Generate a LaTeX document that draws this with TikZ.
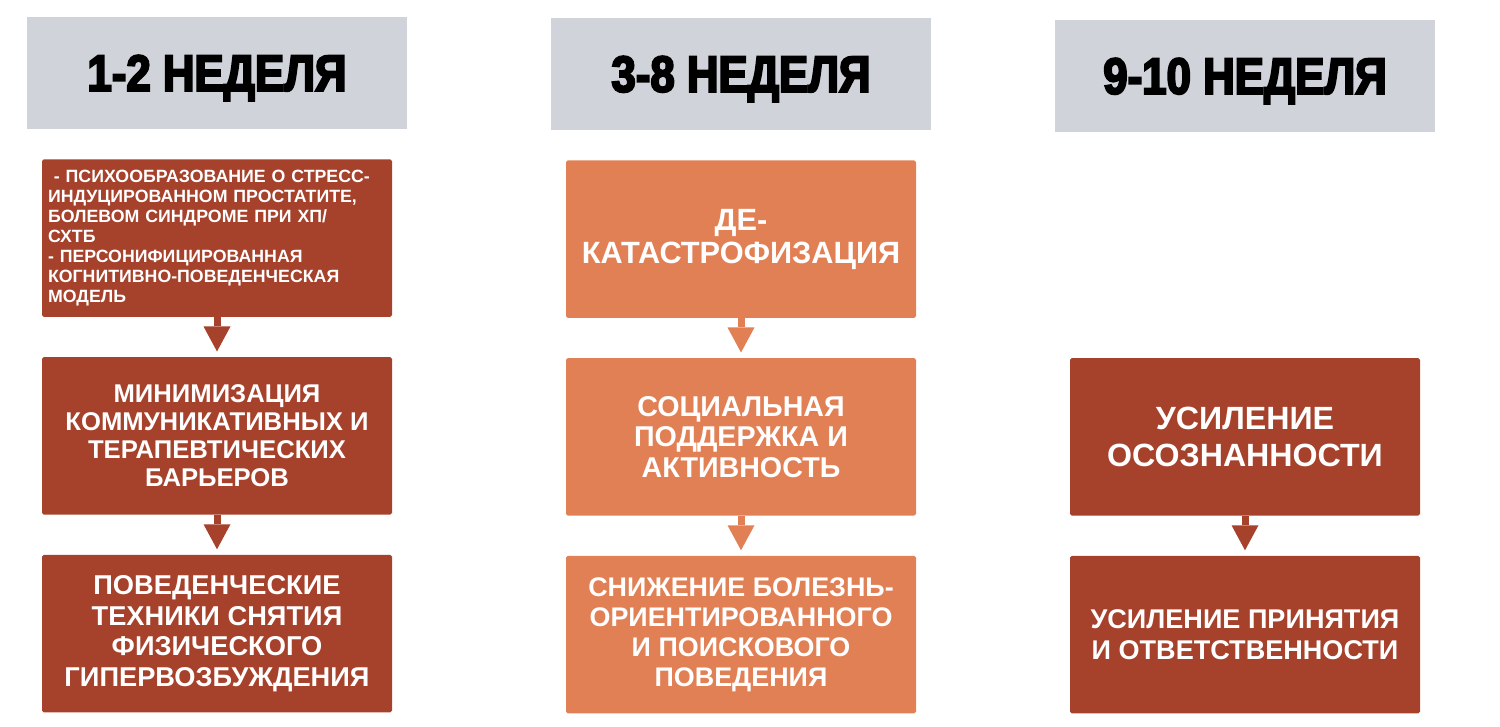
\documentclass[tikz,border=0pt]{standalone}
\usepackage{fontspec}
\setmainfont{Liberation Sans}
\newfontfamily\weekfont[FakeStretch=0.86,FakeBold=4]{Liberation Sans Bold}
\usetikzlibrary{positioning, arrows.meta}
\tikzset{every picture/.style={line width=0.75pt}}
\definecolor{brick}{RGB}{166,65,43}
\definecolor{peach}{RGB}{226,128,85}
\definecolor{steel}{RGB}{208,212,218}

\begin{document}
\begin{tikzpicture}[node distance=0.78cm,
        week/.style={rectangle, fill=steel, minimum width=7.6cm, minimum height=2.24cm, text depth=0pt, font=\weekfont\fontsize{29}{32}\selectfont},
        box/.style={rectangle, rounded corners=1pt, minimum width=7cm, minimum height=3.15cm, inner sep=0pt, text=white, align=center},
        txt/.style 2 args={font=\bfseries\fontsize{#1}{#2}\selectfont},
        dark/.style={box, fill=brick},
        light/.style={box, fill=peach},
        flow/.style={-{Triangle[width=0.54cm,length=0.5cm,line width=0pt]}, line width=0.14cm, shorten >=0.1cm}]
        \useasboundingbox (0,0) rectangle (30,14.52);

        \node[week] (w1) at (4.34,13.06) {1-2 НЕДЕЛЯ};
        \node[week] (w2) at (14.82,13.04) {3-8 НЕДЕЛЯ};
        \node[week] (w3) at (24.9,13.0) {9-10 НЕДЕЛЯ};

        % 1-2
        \node[dark, below=0.58cm of w1, align=left, text width=6.76cm, txt={10.1}{11.4}] (a1)
            {~- ПСИХООБРАЗОВАНИЕ О СТРЕСС-\\ИНДУЦИРОВАННОМ ПРОСТАТИТЕ,\\БОЛЕВОМ СИНДРОМЕ ПРИ ХП/\\СХТБ\\- ПЕРСОНИФИЦИРОВАННАЯ\\КОГНИТИВНО-ПОВЕДЕНЧЕСКАЯ\\МОДЕЛЬ};
        \node[dark, below=of a1, txt={14.6}{16}] (a2) {МИНИМИЗАЦИЯ\\КОММУНИКАТИВНЫХ И\\ТЕРАПЕВТИЧЕСКИХ\\БАРЬЕРОВ};
        \node[dark, below=of a2, txt={15.5}{17.4}] (a3) {ПОВЕДЕНЧЕСКИЕ\\ТЕХНИКИ СНЯТИЯ\\ФИЗИЧЕСКОГО\\ГИПЕРВОЗБУЖДЕНИЯ};

        % 3-8
        \node[light, below=0.58cm of w2, txt={17.5}{18.7}] (b1) {ДЕ-\\КАТАСТРОФИЗАЦИЯ};
        \node[light, below=of b1, txt={16.3}{17.4}] (b2) {СОЦИАЛЬНАЯ\\ПОДДЕРЖКА И\\АКТИВНОСТЬ};
        \node[light, below=of b2, txt={15.3}{17}] (b3) {СНИЖЕНИЕ БОЛЕЗНЬ-\\ОРИЕНТИРОВАННОГО\\И ПОИСКОВОГО\\ПОВЕДЕНИЯ};

        % 9-10
        \node[dark, txt={18.3}{21.5}] (c2) at (w3 |- b2) {УСИЛЕНИЕ\\ОСОЗНАННОСТИ};
        \node[dark, below=of c2, txt={15.4}{17.6}] (c3) {УСИЛЕНИЕ ПРИНЯТИЯ\\И ОТВЕТСТВЕННОСТИ};

        \draw[flow, brick] (a1) -- (a2);
        \draw[flow, brick] (a2) -- (a3);
        \draw[flow, peach] (b1) -- (b2);
        \draw[flow, peach] (b2) -- (b3);
        \draw[flow, brick] (c2) -- (c3);
    \end{tikzpicture}
\end{document}
